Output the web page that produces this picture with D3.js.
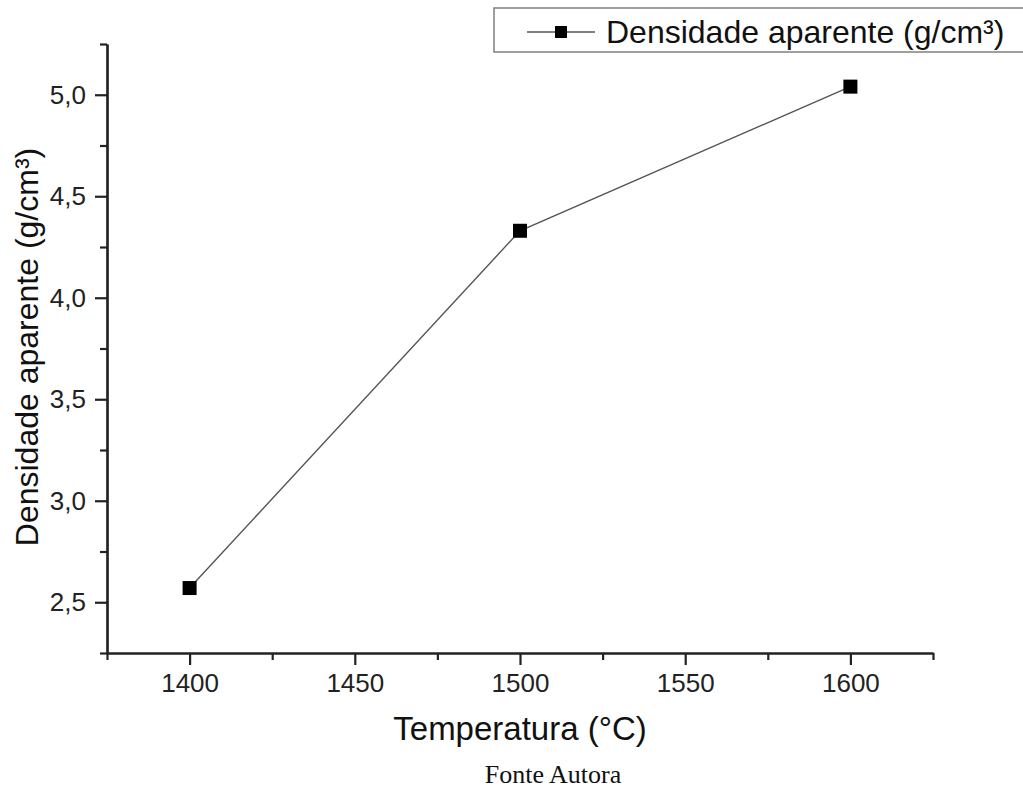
<!DOCTYPE html>
<html>
<head>
<meta charset="utf-8">
<script src="https://cdn.jsdelivr.net/npm/d3@7"></script>
<style>
  html, body { margin: 0; padding: 0; background: #fff; }
  svg { display: block; }
</style>
</head>
<body>
<svg id="chart" width="1023" height="788"></svg>
<script>
// Bulk density by sintering temperature
const temperatures = [1400, 1500, 1600];
const densities = [2.57, 4.33, 5.04];
const xMajorTicks = [1400, 1450, 1500, 1550, 1600];
const xMinorTicks = [1375, 1425, 1475, 1525, 1575, 1625];
const yMajorTicks = [2.5, 3.0, 3.5, 4.0, 4.5, 5.0];
const yMinorTicks = [2.25, 2.75, 3.25, 3.75, 4.25, 4.75, 5.25];
const seriesName = "Densidade aparente (g/cm\u00B3)";
const xTitle = "Temperatura (\u00B0C)";
const yTitle = "Densidade aparente (g/cm\u00B3)";
const caption = "Fonte Autora";

const svg = d3.select("#chart");
const sans = "Arial, 'Liberation Sans', Helvetica, sans-serif";

const plotLeft = 107, plotRight = 933, plotTop = 44, plotBottom = 653;
const x = d3.scaleLinear().domain([1375, 1625]).range([plotLeft, plotRight]);
const y = d3.scaleLinear().domain([2.25, 5.25]).range([plotBottom, plotTop]);
const fmt = d => d3.format(".1f")(d).replace(".", ",");

// minor ticks first, then major axes with labels
const xMinor = svg.append("g").attr("transform", `translate(0,${plotBottom})`)
  .call(d3.axisBottom(x).tickValues(xMinorTicks).tickSize(7).tickSizeOuter(0).tickFormat(""));
const yMinor = svg.append("g").attr("transform", `translate(${plotLeft},0)`)
  .call(d3.axisLeft(y).tickValues(yMinorTicks).tickSize(7).tickSizeOuter(0).tickFormat(""));

const xAxis = svg.append("g").attr("transform", `translate(0,${plotBottom})`)
  .call(d3.axisBottom(x).tickValues(xMajorTicks).tickSize(12).tickSizeOuter(0).tickPadding(9).tickFormat(d3.format("d")));
const yAxis = svg.append("g").attr("transform", `translate(${plotLeft},0)`)
  .call(d3.axisLeft(y).tickValues(yMajorTicks).tickSize(12).tickSizeOuter(0).tickPadding(9).tickFormat(fmt));

[xMinor, yMinor, xAxis, yAxis].forEach(g => {
  g.selectAll("path.domain").attr("stroke", "#222").attr("stroke-width", 2.2);
  g.selectAll(".tick line").attr("stroke", "#222").attr("stroke-width", 2.2);
  g.selectAll("text").attr("font-family", sans).attr("font-size", 26).attr("fill", "#222");
});

// data line and square markers
const pts = temperatures.map((t, i) => [t, densities[i]]);
svg.append("path")
  .attr("d", d3.line().x(d => x(d[0])).y(d => y(d[1]))(pts))
  .attr("fill", "none").attr("stroke", "#555").attr("stroke-width", 1.4);
const sq = 14;
svg.selectAll("rect.pt").data(pts).enter().append("rect")
  .attr("class", "pt")
  .attr("x", d => x(d[0]) - sq / 2).attr("y", d => y(d[1]) - sq / 2)
  .attr("width", sq).attr("height", sq).attr("fill", "#000");

// axis titles
svg.append("text")
  .attr("x", 520).attr("y", 740)
  .attr("text-anchor", "middle")
  .attr("font-family", sans).attr("font-size", 33).attr("fill", "#111")
  .text(xTitle);
svg.append("text")
  .attr("transform", `translate(38,347) rotate(-90)`)
  .attr("text-anchor", "middle")
  .attr("font-family", sans).attr("font-size", 32).attr("fill", "#111")
  .text(yTitle);

// legend
const legend = svg.append("g");
legend.append("rect")
  .attr("x", 494).attr("y", 8).attr("width", 560).attr("height", 44)
  .attr("fill", "#fff").attr("stroke", "#888").attr("stroke-width", 1.6);
legend.append("line")
  .attr("x1", 527).attr("x2", 595).attr("y1", 32).attr("y2", 32)
  .attr("stroke", "#555").attr("stroke-width", 1.4);
legend.append("rect")
  .attr("x", 561 - 6).attr("y", 32 - 6).attr("width", 12).attr("height", 12).attr("fill", "#000");
legend.append("text")
  .attr("x", 606).attr("y", 43)
  .attr("font-family", sans).attr("font-size", 32).attr("fill", "#111")
  .text(seriesName);

// source caption
svg.append("text")
  .attr("x", 553).attr("y", 783)
  .attr("text-anchor", "middle")
  .attr("font-family", "'Times New Roman', 'Liberation Serif', serif").attr("font-size", 26).attr("fill", "#111")
  .text(caption);
</script>
</body>
</html>
